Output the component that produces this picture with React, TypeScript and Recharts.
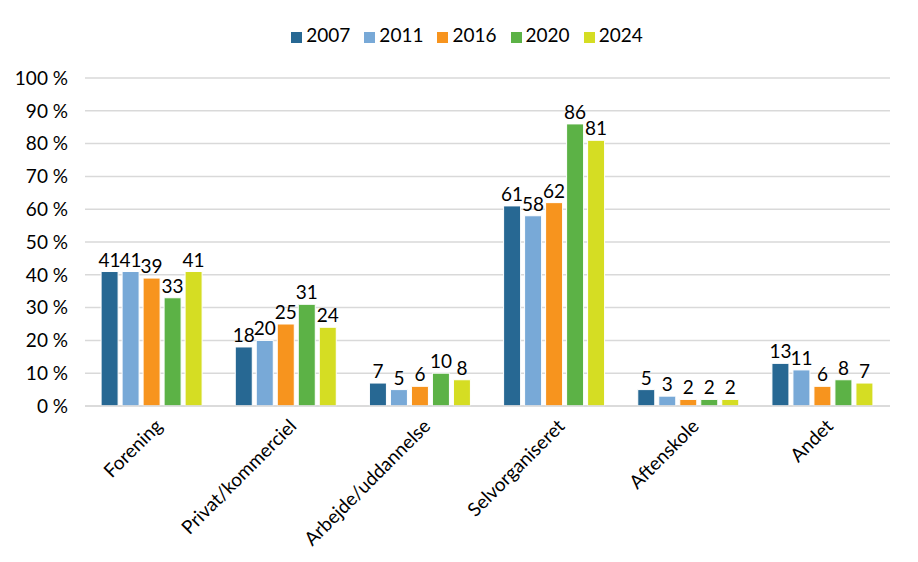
import React from 'react';
import { Bar, BarChart, CartesianGrid, LabelList, Legend, XAxis, YAxis } from 'recharts';

const categories = ['Forening', 'Privat/kommerciel', 'Arbejde/uddannelse', 'Selvorganiseret', 'Aftenskole', 'Andet'];
const years = ['2007', '2011', '2016', '2020', '2024'];
const v2007 = [41, 18, 7, 61, 5, 13];
const v2011 = [41, 20, 5, 58, 3, 11];
const v2016 = [39, 25, 6, 62, 2, 6];
const v2020 = [33, 31, 10, 86, 2, 8];
const v2024 = [41, 24, 8, 81, 2, 7];
const yTicks = [0, 10, 20, 30, 40, 50, 60, 70, 80, 90, 100];

const colors = ['#276893', '#78a9d7', '#f7941e', '#5cb246', '#d5dd23'];
const series = [v2007, v2011, v2016, v2020, v2024];

const data = categories.map((name, i) => {
    const row: any = { name };
    years.forEach((y, j) => {
        row[y] = series[j][i];
    });
    return row;
});

const font = 'Lato, "Open Sans", "Liberation Sans", sans-serif';
const fs = 19;

function XTick(props: any) {
    const { x, y, payload } = props;
    return (
        <text
            x={x + 6}
            y={y + 8}
            transform={`rotate(-45 ${x + 6} ${y + 8})`}
            textAnchor="end"
            fontSize={fs}
            fill="#000"
            fontFamily={font}
            dominantBaseline="central"
        >
            {payload.value}
        </text>
    );
}

function App() {
    return (
        <div style={{ position: 'absolute', left: 0, top: 0, background: '#fff', fontFamily: font }}>
            <BarChart
                width={918}
                height={562}
                data={data}
                margin={{ top: 56, right: 28, left: 0, bottom: 0 }}
                barCategoryGap="12%"
                barGap={4}
            >
                <CartesianGrid vertical={false} stroke="#d9d9d9" strokeWidth={1.5} />
                <XAxis
                    dataKey="name"
                    height={156}
                    tick={<XTick />}
                    tickLine={false}
                    axisLine={{ stroke: '#d9d9d9', strokeWidth: 1.5 }}
                    interval={0}
                />
                <YAxis
                    width={85}
                    domain={[0, 100]}
                    ticks={yTicks}
                    tickFormatter={(v) => `${v} %`}
                    tickLine={false}
                    axisLine={false}
                    tickMargin={11}
                    tick={{ fontSize: fs, fill: '#000', fontFamily: font }}
                />
                <Legend
                    verticalAlign="top"
                    align="center"
                    iconType="square"
                    iconSize={11}
                    height={22}
                    wrapperStyle={{ top: 24, left: 15, width: 918, fontSize: fs, fontFamily: font, lineHeight: '22px' }}
                    formatter={(value) => <span style={{ color: '#000', marginRight: 4 }}>{value}</span>}
                />
                {years.map((y, j) => (
                    <Bar key={y} dataKey={y} fill={colors[j]} stroke="#ffffff" strokeWidth={1} isAnimationActive={false}>
                        <LabelList dataKey={y} position="top" offset={5} style={{ fontSize: fs, fill: '#000', fontFamily: font }} />
                    </Bar>
                ))}
            </BarChart>
        </div>
    );
}

export default App;
